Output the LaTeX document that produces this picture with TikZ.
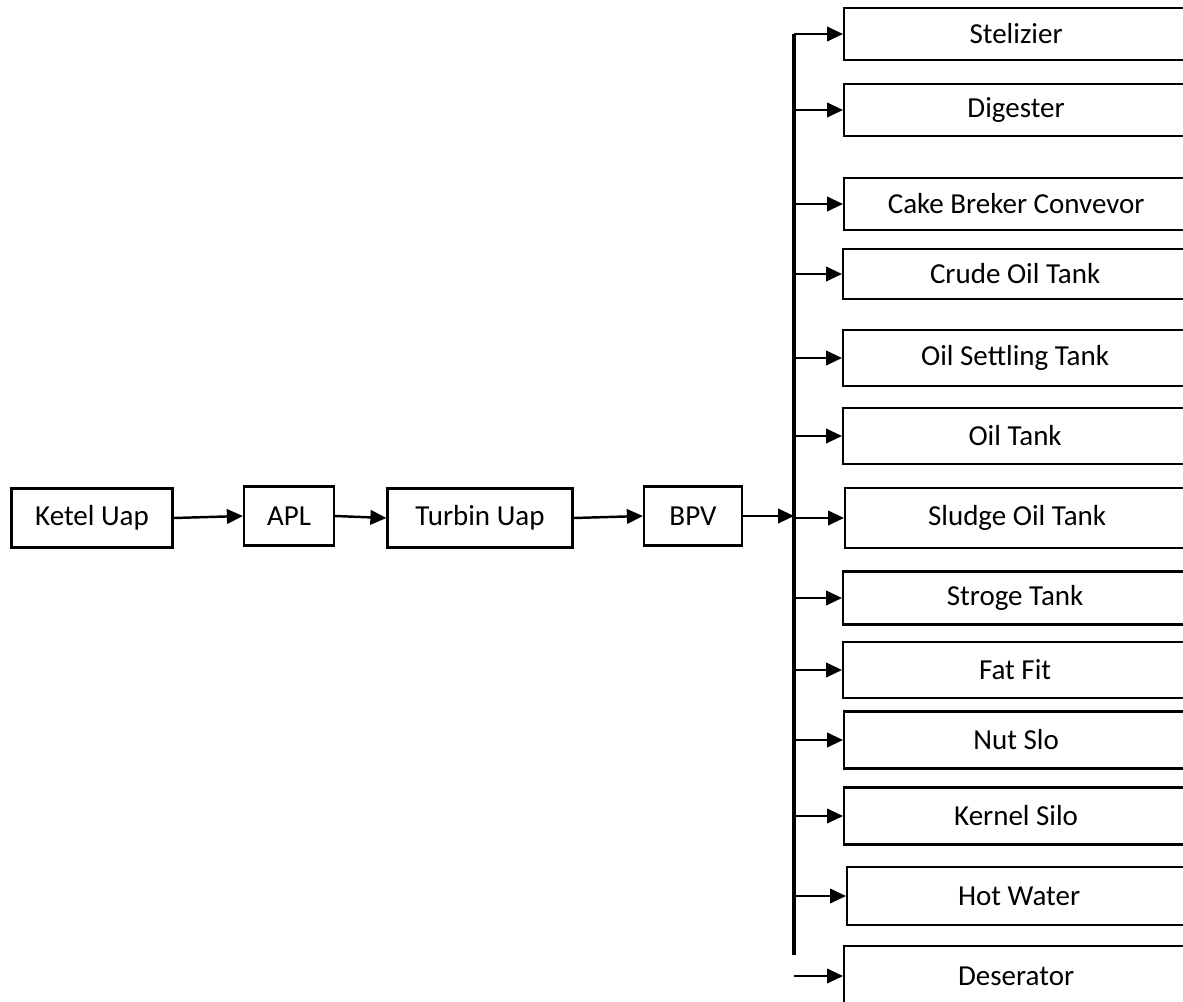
\documentclass[tikz,border=0pt]{standalone}
\usepackage{fontspec}
\setmainfont{Carlito}
\usetikzlibrary{arrows.meta,positioning}

\begin{document}
\begin{tikzpicture}[
    x=0.02cm,y=-0.02cm,
    font=\fontsize{16.5}{19}\selectfont,
    unit/.style={draw,line width=1.3pt,minimum height=1.18cm,inner sep=0pt},
    sink/.style={draw,line width=1.3pt,anchor=west,minimum width=6.88cm,inner sep=0pt},
    flow/.style={-{Triangle[length=3.2mm,width=2.9mm]},line width=1.4pt},
    bus/.style={line width=2pt}
  ]
    \useasboundingbox (0,0) rectangle (1183,1001);

    \node[unit,minimum width=3.22cm] (ketel) at (92,518) {Ketel Uap};
    \node[unit,minimum width=1.80cm] (apl) at (289,516) {APL};
    \node[unit,minimum width=3.70cm] (turbin) at (480,518) {Turbin Uap};
    \node[unit,minimum width=1.96cm] (bpv) at (693,516) {BPV};

    \node[sink,minimum height=1.04cm] (stel) at (843,34) {Stelizier};
    \node[sink,minimum height=1.04cm] (dig) at (843,110) {Digester};
    \node[sink,minimum height=1.04cm] (cake) at (843,204) {Cake Breker Convevor};
    \node[sink,minimum height=1.00cm] (crude) at (842,274) {Crude Oil Tank};
    \node[sink,minimum height=1.12cm] (settle) at (842,358) {Oil Settling Tank};
    \node[sink,minimum height=1.12cm] (oiltank) at (842,436) {Oil Tank};
    \node[sink,minimum height=1.20cm] (sludge) at (844,518) {Sludge Oil Tank};
    \node[sink,minimum height=1.06cm] (stroge) at (842,598) {Stroge Tank};
    \node[sink,minimum height=1.12cm] (fatfit) at (842,670) {Fat Fit};
    \node[sink,minimum height=1.14cm] (nutslo) at (843,740) {Nut Slo};
    \node[sink,minimum height=1.14cm] (kernel) at (843,816) {Kernel Silo};
    \node[sink,minimum height=1.16cm] (hotwater) at (846,896) {Hot Water};
    \node[sink,minimum height=1.20cm] (deser) at (843,976) {Deserator};

    \coordinate (busbot) at (794,955);

    \draw[flow] (ketel.east) -- (apl.west);
    \draw[flow] (apl.east) -- (turbin.west);
    \draw[flow] (turbin.east) -- (bpv.west);
    \draw[flow] (bpv.east) -- (bpv.east -| busbot);

    % distribution line
    \draw[bus] (busbot) -- (busbot |- stel.west);
    \draw[flow] (busbot |- stel.west) -- (stel.west);
    \draw[flow] (busbot |- dig.west) -- (dig.west);
    \draw[flow] (busbot |- cake.west) -- (cake.west);
    \draw[flow] (busbot |- crude.west) -- (crude.west);
    \draw[flow] (busbot |- settle.west) -- (settle.west);
    \draw[flow] (busbot |- oiltank.west) -- (oiltank.west);
    \draw[flow] (busbot |- sludge.west) -- (sludge.west);
    \draw[flow] (busbot |- stroge.west) -- (stroge.west);
    \draw[flow] (busbot |- fatfit.west) -- (fatfit.west);
    \draw[flow] (busbot |- nutslo.west) -- (nutslo.west);
    \draw[flow] (busbot |- kernel.west) -- (kernel.west);
    \draw[flow] (busbot |- hotwater.west) -- (hotwater.west);
    \draw[flow] (busbot |- deser.west) -- (deser.west);
\end{tikzpicture}
\end{document}
